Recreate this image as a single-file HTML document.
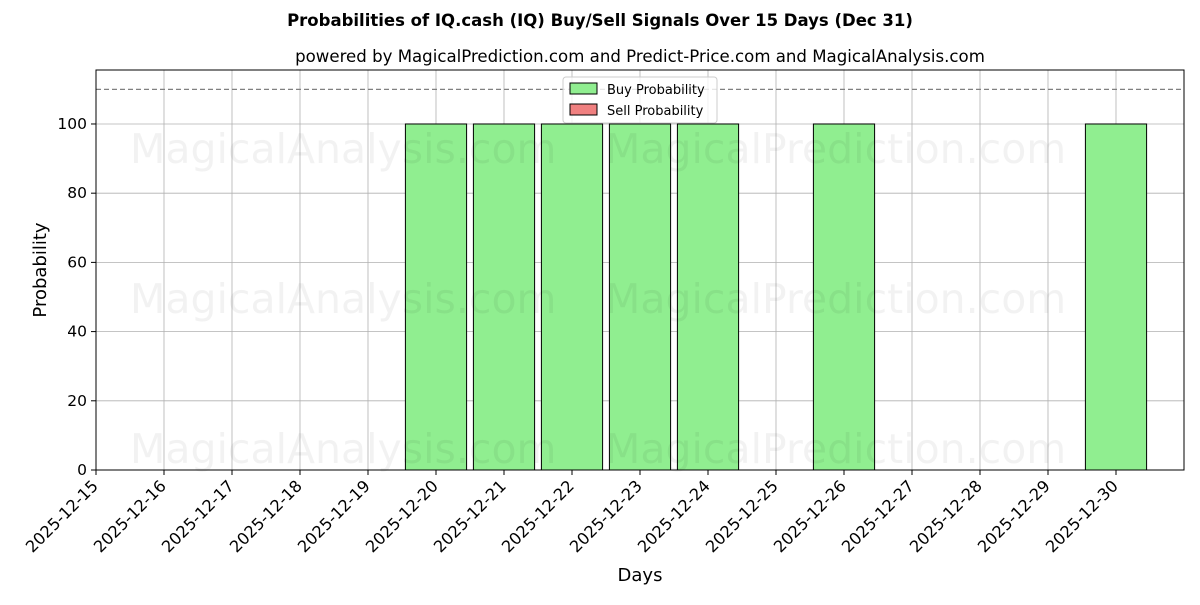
<!DOCTYPE html>
<html><head><meta charset="utf-8"><style>
body{margin:0;background:#fff;font-family:"Liberation Sans","DejaVu Sans",sans-serif;}
svg text{font-family:"DejaVu Sans","Liberation Sans",sans-serif;}
</style></head><body>
<svg id="chart" width="1200" height="600" xmlns="http://www.w3.org/2000/svg">
<text x="600" y="26" text-anchor="middle" font-size="16.5" font-weight="bold">Probabilities of IQ.cash (IQ) Buy/Sell Signals Over 15 Days (Dec 31)</text>
<text x="640" y="62" text-anchor="middle" font-size="16.6">powered by MagicalPrediction.com and Predict-Price.com and MagicalAnalysis.com</text>
<g id="grid"></g>
<g id="bars"></g>
<g id="wm" fill="#000" fill-opacity="0.05" font-size="41">
<text x="130" y="163">MagicalAnalysis.com</text>
<text x="605" y="163">MagicalPrediction.com</text>
<text x="130" y="313">MagicalAnalysis.com</text>
<text x="605" y="313">MagicalPrediction.com</text>
<text x="130" y="463">MagicalAnalysis.com</text>
<text x="605" y="463">MagicalPrediction.com</text>
</g>
<line x1="96" x2="1184" y1="89.4" y2="89.4" stroke="#808080" stroke-dasharray="5,3" stroke-width="1.2"/>
<rect x="96" y="70" width="1088" height="400" fill="none" stroke="#000" stroke-width="1"/>
<g id="ticks"></g>
<text x="640" y="581" text-anchor="middle" font-size="18">Days</text>
<text transform="translate(46,270) rotate(-90)" text-anchor="middle" font-size="18">Probability</text>
<g>
<rect x="563" y="77" width="154" height="46" fill="#fff" fill-opacity="0.8" stroke="#ccc" rx="3"/>
<rect x="570" y="83" width="27" height="11" fill="#90ee90" stroke="#000"/>
<text x="607" y="94" font-size="13">Buy Probability</text>
<rect x="570" y="104" width="27" height="11" fill="#f08080" stroke="#000"/>
<text x="607" y="115" font-size="13">Sell Probability</text>
</g>
</svg>
<script>
const days = ["2025-12-15","2025-12-16","2025-12-17","2025-12-18","2025-12-19","2025-12-20","2025-12-21","2025-12-22","2025-12-23","2025-12-24","2025-12-25","2025-12-26","2025-12-27","2025-12-28","2025-12-29","2025-12-30"];
const buyValues = [0,0,0,0,0,100,100,100,100,100,0,100,0,0,0,100];
const sellValues = [0,0,0,0,0,0,0,0,0,0,0,0,0,0,0,0];
const yTicks = [0,20,40,60,80,100];
const NS="http://www.w3.org/2000/svg";
const X0=96,X1=1184,Y0=470,Y1=70,YMAX=115.6;
const xs=i=>X0+(X1-X0)*i/16;
const ys=v=>Y0-(Y0-Y1)*v/YMAX;
function mk(tag,attrs,parent){const e=document.createElementNS(NS,tag);for(const k in attrs)e.setAttribute(k,attrs[k]);parent.appendChild(e);return e;}
const grid=document.getElementById('grid'),bars=document.getElementById('bars'),ticks=document.getElementById('ticks');
days.forEach((d,i)=>{
 const x=xs(i);
 const g=mk('line',{x1:x,x2:x,y1:Y1,y2:Y0,stroke:'#b0b0b0','stroke-width':0.8},grid);
 
 
 const t=mk('line',{x1:x,x2:x,y1:Y0,y2:Y0+5,stroke:'#000'},ticks);
 
 
 const l=mk('text',{x:x+3,y:Y0+17,'text-anchor':'end','font-size':16.2,transform:`rotate(-45 ${x+3} ${Y0+17})`},ticks);
 l.textContent=d;
 
 
 const w=(X1-X0)/16*0.9;
 if(buyValues[i]>0){
  const b=mk('rect',{x:x-w/2,y:ys(buyValues[i]),width:w,height:Y0-ys(buyValues[i]),fill:'#90ee90',stroke:'#000','stroke-width':1},bars);
  
  
 }
 if(sellValues[i]>0){
  const s=mk('rect',{x:x-w/2,y:ys(buyValues[i]+sellValues[i]),width:w,height:ys(buyValues[i])-ys(buyValues[i]+sellValues[i]),fill:'#f08080',stroke:'#000'},bars);
  
  
 }
});
yTicks.forEach(v=>{
 const y=ys(v);
 const g=mk('line',{x1:X0,x2:X1,y1:y,y2:y,stroke:'#b0b0b0','stroke-width':0.8},grid);
 
 
 const t=mk('line',{x1:X0-5,x2:X0,y1:y,y2:y,stroke:'#000'},ticks);
 
 
 const l=mk('text',{x:X0-9,y:y+5,'text-anchor':'end','font-size':15.5},ticks);
 l.textContent=v;
 
 
});
</script>
</body></html>
